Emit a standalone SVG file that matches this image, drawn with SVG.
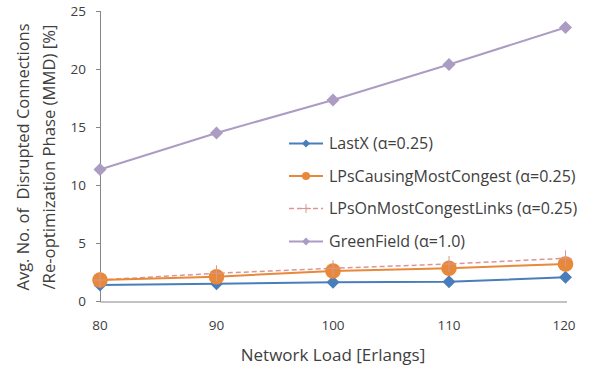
<svg xmlns="http://www.w3.org/2000/svg" width="592" height="369" viewBox="0 0 592 369">
<defs>
<style>
text{font-family:"Open Sans","Liberation Sans",sans-serif;fill:#404040}
.tick{font-size:13.5px}
.leg{font-size:16px}
.ttl{font-size:17px;white-space:pre}
.ax{stroke:#868686;stroke-width:1;fill:none}
.s1{stroke:#4A7EBB;stroke-width:2;fill:none}
.s2{stroke:#E8893A;stroke-width:2;fill:none}
.s3{stroke:#D99694;stroke-width:1.5;fill:none;stroke-dasharray:5,3}
.s4{stroke:#AC9CC4;stroke-width:2;fill:none}
</style>
<path id="dia" d="M0,-6.5 L6.5,0 L0,6.5 L-6.5,0 Z"/>
<path id="diaS" d="M0,-4 L4,0 L0,4 L-4,0 Z"/>
<path id="plus" d="M-6,0 H6 M0,-8 V8"/>
</defs>
<rect width="592" height="369" fill="#fff"/>
<g id="axes">
<path class="ax" d="M100.5,11 V302 H567"/>
<path class="ax" d="M96,11.5 H100.5 M96,69.5 H100.5 M96,127.5 H100.5 M96,185.5 H100.5 M96,243.5 H100.5 M96,301.5 H100.5"/>
<g class="tick" text-anchor="end">
<text x="86" y="16">25</text>
<text x="86" y="74">20</text>
<text x="86" y="132">15</text>
<text x="86" y="190">10</text>
<text x="86" y="248">5</text>
<text x="86" y="306">0</text>
</g>
<g class="tick" text-anchor="middle">
<text x="100" y="330">80</text>
<text x="216.5" y="330">90</text>
<text x="333" y="330">100</text>
<text x="449" y="330">110</text>
<text x="564" y="330">120</text>
</g>
<text class="ttl" x="333" y="361" text-anchor="middle" font-size="18">Network Load [Erlangs]</text>
<text class="ttl" transform="translate(29,157) rotate(-90)" text-anchor="middle" textLength="267" lengthAdjust="spacingAndGlyphs">Avg. No. of  Disrupted Connections</text>
<text class="ttl" transform="translate(55,157) rotate(-90)" text-anchor="middle" textLength="265" lengthAdjust="spacingAndGlyphs">/Re-optimization Phase (MMD) [%]</text>
</g>
<g id="connectors">
<polyline class="s4" points="100,169.5 216.5,133 333,100 449,64.5 565.5,27.5"/>
<polyline class="s1" points="100,285 216.5,283.7 333,282.3 449,281.7 565.5,277.3"/>
<polyline class="s3" points="100,280 216.5,273.3 333,268.3 449,264 565.5,258.3"/>
<polyline class="s2" points="100,280 216.5,276.7 333,271 449,268.3 565.5,264"/>
</g>
<g id="series-greenfield" fill="#AC9CC4">
<use href="#dia" x="100" y="169.5"/>
<use href="#dia" x="216.5" y="133"/>
<use href="#dia" x="333" y="100"/>
<use href="#dia" x="449" y="64.5"/>
<use href="#dia" x="565.5" y="27.5"/>
</g>
<g id="series-lastx" fill="#4A7EBB">
<use href="#dia" x="100" y="285"/>
<use href="#dia" x="216.5" y="283.7"/>
<use href="#dia" x="333" y="282.3"/>
<use href="#dia" x="449" y="281.7"/>
<use href="#dia" x="565.5" y="277.3"/>
</g>
<g id="series-lpscausing" fill="#E8893A">
<circle cx="100" cy="280" r="7.8"/>
<circle cx="216.5" cy="276.7" r="7.8"/>
<circle cx="333" cy="271" r="7.8"/>
<circle cx="449" cy="268.3" r="7.8"/>
<circle cx="565.5" cy="264" r="7.8"/>
</g>
<g id="series-lpson" stroke="#D99694" stroke-width="1" fill="none">
<use href="#plus" x="100" y="280"/>
<use href="#plus" x="216.5" y="273.3"/>
<use href="#plus" x="333" y="268.3"/>
<use href="#plus" x="449" y="264"/>
<use href="#plus" x="565.5" y="258.3"/>
</g>
<g id="legend">
<g id="leg-lastx">
<path class="s1" d="M289,143.5 H323"/>
<use href="#diaS" x="306" y="143.5" fill="#4A7EBB"/>
<text class="leg" x="329" y="149">LastX (α=0.25)</text>
</g>
<g id="leg-lpscausing">
<path class="s2" d="M289,176 H323"/>
<circle cx="306" cy="176" r="4" fill="#E8893A"/>
<text class="leg" x="329" y="181.5">LPsCausingMostCongest (α=0.25)</text>
</g>
<g id="leg-lpson">
<path class="s3" d="M289,208.5 H323" stroke-dasharray="4,3"/>
<path d="M301,208.5 H311 M306,204 V213" stroke="#D99694" stroke-width="1"/>
<text class="leg" x="329" y="214">LPsOnMostCongestLinks (α=0.25)</text>
</g>
<g id="leg-greenfield">
<path class="s4" d="M289,241.5 H323"/>
<use href="#diaS" x="306" y="241.5" fill="#AC9CC4"/>
<text class="leg" x="329" y="247">GreenField (α=1.0)</text>
</g>
</g>
</svg>
